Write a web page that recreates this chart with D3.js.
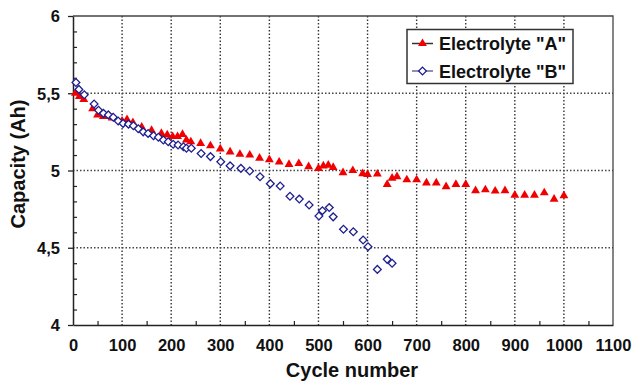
<!DOCTYPE html>
<html>
<head>
<meta charset="utf-8">
<script src="https://cdn.jsdelivr.net/npm/d3@7"></script>
<style>
  body { margin: 0; background: #fff; }
  svg { display: block; font-family: "Liberation Sans", Arial, sans-serif; font-weight: bold; }
</style>
</head>
<body>
<svg id="chart" width="634" height="382"></svg>
<script>
// Electrolyte "A" (triangles)
const cyclesA = [5, 13, 22, 40, 50, 62, 80, 100, 110, 122, 140, 160, 180, 192, 203, 213, 223, 231, 240,
  260, 280, 300, 320, 340, 360, 380, 400, 420, 440, 460, 480, 500, 510, 520, 530, 550, 570, 590, 600,
  620, 640, 650, 660, 680, 700, 720, 740, 760, 780, 800, 820, 840, 860, 880, 900, 920, 940, 960, 980, 1000];
const capacityA = [5.50, 5.48, 5.46, 5.40, 5.36, 5.35, 5.34, 5.32, 5.33, 5.31, 5.28, 5.26, 5.24, 5.23, 5.22, 5.22, 5.234, 5.197, 5.186,
  5.175, 5.16, 5.14, 5.12, 5.105, 5.10, 5.08, 5.07, 5.055, 5.04, 5.045, 5.025, 5.014, 5.03, 5.035, 5.02, 4.986, 5.0, 4.98, 4.975,
  4.977, 4.91, 4.95, 4.96, 4.94, 4.94, 4.92, 4.92, 4.895, 4.91, 4.91, 4.87, 4.875, 4.867, 4.87, 4.84, 4.84, 4.84, 4.856, 4.815, 4.837];

// Electrolyte "B" (diamonds)
const cyclesB = [6, 12, 23, 43, 52, 62, 72, 82, 92, 102, 113, 123, 133, 143, 153, 164, 174, 184, 194, 204, 214, 225, 231, 241,
  261, 280, 301, 320, 342, 360, 381, 402, 422, 442, 461, 481, 501, 508, 522, 530, 551, 571, 591, 601, 620, 640, 650];
const capacityB = [5.57, 5.525, 5.49, 5.43, 5.39, 5.37, 5.36, 5.345, 5.32, 5.305, 5.30, 5.29, 5.27, 5.25, 5.24, 5.225, 5.215, 5.197, 5.186, 5.17, 5.165, 5.154, 5.144, 5.144,
  5.11, 5.09, 5.057, 5.03, 5.014, 4.997, 4.96, 4.915, 4.90, 4.833, 4.815, 4.777, 4.706, 4.74, 4.76, 4.70, 4.62, 4.604, 4.55, 4.507, 4.36, 4.425, 4.40];

const xTicks = [0, 100, 200, 300, 400, 500, 600, 700, 800, 900, 1000, 1100];
const yTicks = [4, 4.5, 5, 5.5, 6];
const seriesNames = ['Electrolyte "A"', 'Electrolyte "B"'];

const svg = d3.select("#chart");
const plot = { left: 73, right: 613, top: 16, bottom: 325 };

const x = d3.scaleLinear().domain([0, 1100]).range([plot.left, plot.right]);
const y = d3.scaleLinear().domain([4, 6]).range([plot.bottom, plot.top]);

// Grid lines (dotted)
svg.append("g")
  .selectAll("line")
  .data(xTicks.filter(d => d > 0 && d < 1100))
  .join("line")
  .attr("x1", d => x(d)).attr("x2", d => x(d))
  .attr("y1", plot.top).attr("y2", plot.bottom)
  .attr("stroke", "#333").attr("stroke-width", 1.4).attr("stroke-dasharray", "1.5,2");

svg.append("g")
  .selectAll("line")
  .data(yTicks.filter(d => d > 4 && d < 6))
  .join("line")
  .attr("x1", plot.left).attr("x2", plot.right)
  .attr("y1", d => y(d)).attr("y2", d => y(d))
  .attr("stroke", "#444").attr("stroke-width", 1.4).attr("stroke-dasharray", "1.5,2");

// Top and right border
svg.append("path")
  .attr("d", `M${plot.left},${plot.top}H${plot.right}V${plot.bottom}`)
  .attr("fill", "none").attr("stroke", "#444").attr("stroke-width", 1.3);

// Minor ticks (inward)
const xMinor = d3.range(50, 1100, 100);
svg.append("g")
  .attr("transform", `translate(0,${plot.bottom})`)
  .call(d3.axisBottom(x).tickValues(xMinor).tickSize(-4).tickFormat(""))
  .call(g => g.select(".domain").remove())
  .selectAll("line").attr("stroke", "#222").attr("stroke-width", 1.2);

const yMinor = d3.range(4.1, 6, 0.1).map(d => +d.toFixed(1)).filter(d => !yTicks.includes(d));
svg.append("g")
  .attr("transform", `translate(${plot.left},0)`)
  .call(d3.axisLeft(y).tickValues(yMinor).tickSize(-4).tickFormat(""))
  .call(g => g.select(".domain").remove())
  .selectAll("line").attr("stroke", "#222").attr("stroke-width", 1.2);

// Main axes
const xAxis = svg.append("g")
  .attr("transform", `translate(0,${plot.bottom})`)
  .call(d3.axisBottom(x).tickValues(xTicks).tickSize(0).tickPadding(14).tickSizeOuter(0)
    .tickFormat(d3.format("d")));
xAxis.select(".domain").attr("stroke", "#222").attr("stroke-width", 1.5);
xAxis.selectAll("text").attr("font-size", "16.5px").attr("font-family", "Liberation Sans, Arial, sans-serif")
  .attr("font-weight", "bold").attr("fill", "#111");

const yAxis = svg.append("g")
  .attr("transform", `translate(${plot.left},0)`)
  .call(d3.axisLeft(y).tickValues(yTicks).tickSize(5).tickPadding(8).tickSizeOuter(0)
    .tickFormat(d => String(d).replace(".", ",")));
yAxis.select(".domain").attr("stroke", "#222").attr("stroke-width", 1.5);
yAxis.selectAll("line").attr("stroke", "#222").attr("stroke-width", 1.3);
yAxis.selectAll("text").attr("font-size", "16.5px").attr("font-family", "Liberation Sans, Arial, sans-serif")
  .attr("font-weight", "bold").attr("fill", "#111").attr("dy", "0.36em");

// Axis titles
svg.append("text")
  .attr("x", 352).attr("y", 377)
  .attr("text-anchor", "middle")
  .attr("font-size", "20px").attr("fill", "#111")
  .text("Cycle number");

svg.append("text")
  .attr("transform", "translate(25,164) rotate(-90)")
  .attr("text-anchor", "middle")
  .attr("font-size", "20px").attr("fill", "#111")
  .text("Capacity (Ah)");

// Markers
const triangle = d3.symbol().type(d3.symbolTriangle).size(34);
const diamond = d3.symbol().type(d3.symbolSquare).size(30);

const dataA = cyclesA.map((c, i) => ({ c, v: capacityA[i] }));
const dataB = cyclesB.map((c, i) => ({ c, v: capacityB[i] }));

svg.append("g")
  .selectAll("path")
  .data(dataA)
  .join("path")
  .attr("d", triangle)
  .attr("transform", d => `translate(${x(d.c)},${y(d.v)})`)
  .attr("fill", "#f00000");

svg.append("g")
  .selectAll("path")
  .data(dataB)
  .join("path")
  .attr("d", diamond)
  .attr("transform", d => `translate(${x(d.c)},${y(d.v)}) rotate(45)`)
  .attr("fill", "#fff").attr("stroke", "#1f1f8f").attr("stroke-width", 1.3);

// Legend
const legend = svg.append("g").attr("transform", "translate(407,29.5)");
legend.append("rect")
  .attr("width", 166).attr("height", 54)
  .attr("fill", "#fff").attr("stroke", "#333").attr("stroke-width", 1.5);

const legendRows = [
  { name: seriesNames[0], y: 14, line: "#333" },
  { name: seriesNames[1], y: 41.5, line: "#6a6aa8" }
];
legendRows.forEach((r, i) => {
  legend.append("line")
    .attr("x1", 5).attr("x2", 26).attr("y1", r.y).attr("y2", r.y)
    .attr("stroke", r.line).attr("stroke-width", 1.5);
  if (i === 0) {
    legend.append("path").attr("d", triangle)
      .attr("transform", `translate(15.5,${r.y})`).attr("fill", "#f00000");
  } else {
    legend.append("path").attr("d", diamond)
      .attr("transform", `translate(15.5,${r.y}) rotate(45)`)
      .attr("fill", "#fff").attr("stroke", "#1f1f8f").attr("stroke-width", 1.3);
  }
  legend.append("text")
    .attr("x", 32).attr("y", r.y + 6.5)
    .attr("font-size", "18px").attr("fill", "#111")
    .text(r.name);
});
</script>
</body>
</html>
